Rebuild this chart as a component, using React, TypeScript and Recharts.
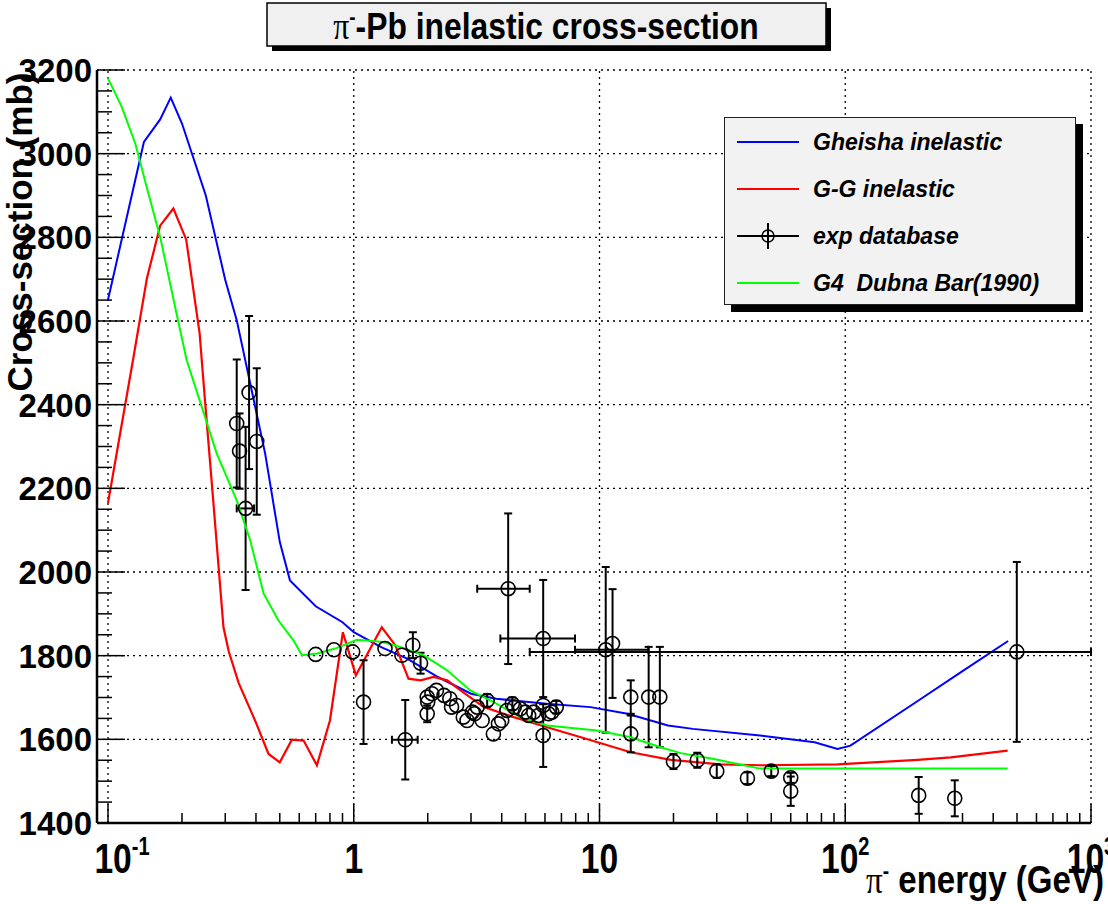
import React from 'react';
import { ComposedChart, Line, Scatter, XAxis, YAxis, ErrorBar, ReferenceLine, Legend } from 'recharts';

// ---------- data ----------
const gheishaE = [0.1, 0.14, 0.163, 0.18, 0.2, 0.25, 0.3, 0.334, 0.436, 0.5, 0.55, 0.7, 0.9, 1.0, 1.3, 1.65, 2.2, 3.0, 3.8, 6.1, 9.2, 13, 19, 24, 45, 75, 93, 105, 200, 300, 460];
const gheishaV = [2651, 3028, 3082, 3134, 3072, 2900, 2698, 2602, 2283, 2072, 1980, 1918, 1880, 1856, 1820, 1793, 1749, 1709, 1697, 1685, 1677, 1661, 1633, 1625, 1609, 1593, 1577, 1585, 1694, 1763, 1835];

const ggE = [0.1, 0.127, 0.144, 0.163, 0.1845, 0.208, 0.236, 0.248, 0.268, 0.295, 0.31, 0.34, 0.4, 0.45, 0.5, 0.56, 0.625, 0.708, 0.8, 0.903, 1.02, 1.3, 1.475, 1.67, 1.87, 2.11, 2.4, 2.72, 3.38, 4.48, 6.12, 8.4, 13.4, 19.5, 31, 45, 93, 197, 269, 458];
const ggV = [2165, 2514, 2702, 2828, 2869, 2795, 2570, 2411, 2171, 1868, 1810, 1735, 1640, 1565, 1545, 1599, 1597, 1538, 1645, 1856, 1753, 1868, 1825, 1745, 1741, 1749, 1741, 1717, 1677, 1653, 1629, 1605, 1569, 1551, 1540, 1538, 1540, 1551, 1557, 1573];

const g4E = [0.1, 0.1137, 0.129, 0.146, 0.163, 0.19, 0.209, 0.248, 0.277, 0.334, 0.379, 0.43, 0.494, 0.569, 0.615, 0.71, 0.84, 1.03, 1.29, 1.47, 1.92, 2.4, 2.98, 3.71, 4.76, 6.12, 9.77, 13.4, 17.7, 21.4, 29.2, 45, 100, 458];
const g4V = [3180, 3112, 3025, 2905, 2801, 2618, 2506, 2371, 2283, 2171, 2076, 1948, 1884, 1836, 1801, 1805, 1817, 1838, 1833, 1825, 1801, 1765, 1717, 1689, 1653, 1633, 1621, 1605, 1581, 1567, 1553, 1530, 1530, 1530];

const expE = [0.334, 0.343, 0.375, 0.403, 0.363, 0.70, 0.83, 0.99, 1.096, 1.34, 1.57, 1.62, 1.74, 1.87,
  1.99, 1.99, 2.0, 2.08, 2.17, 2.33, 2.46, 2.5, 2.62, 2.79, 2.89, 3.04, 3.1, 3.18, 3.33, 3.49, 3.7, 3.88, 4.0, 4.2, 4.42, 4.5, 4.76, 4.99, 5.15, 5.4, 5.65, 5.9, 5.9, 6.2, 6.4, 6.67,
  4.25, 5.9, 10.6, 11.3, 13.4, 13.4, 15.85, 17.6, 20, 25, 30, 40, 50, 60, 60, 199, 279, 499];
const expV = [2355, 2289, 2429, 2312, 2152, 1803, 1814, 1809, 1689, 1817, 1801, 1599, 1825, 1782,
  1701, 1661, 1689, 1709, 1717, 1705, 1697, 1677, 1681, 1653, 1645, 1665, 1661, 1677, 1645, 1693, 1613, 1637, 1645, 1669, 1685, 1677, 1673, 1665, 1657, 1665, 1657, 1681, 1609, 1661, 1665, 1677,
  1960, 1841, 1814, 1829, 1701, 1613, 1701, 1701, 1547, 1550, 1524, 1507, 1524, 1508, 1476, 1466, 1459, 1809];
const expErrY = [153, 90, 183, 175, 195, 0, 0, 0, 100, 0, 0, 95, 31, 25,
  0, 20, 0, 0, 0, 0, 0, 0, 0, 0, 0, 0, 0, 0, 0, 15, 0, 0, 0, 0, 15, 0, 0, 0, 0, 0, 0, 0, 75, 0, 0, 15,
  180, 140, 198, 130, 40, 44, 120, 120, 18, 18, 16, 14, 12, 12, 35, 44, 43, 215];
const expErrXLow = [0, 0, 0, 0, 0.029, 0, 0, 0, 0, 0, 0, 0.19, 0, 0,
  0, 0, 0, 0, 0, 0, 0, 0, 0, 0, 0, 0, 0, 0, 0, 0, 0, 0, 0, 0, 0, 0, 0, 0, 0, 0, 0, 0, 0, 0, 0, 0,
  1.07, 1.95, 2.65, 0, 0, 0, 0, 0, 0, 0, 0, 0, 0, 0, 0, 0, 0, 493.8];
const expErrXHigh = [0, 0, 0, 0, 0.03, 0, 0, 0, 0, 0, 0, 0.2, 0, 0,
  0, 0, 0, 0, 0, 0, 0, 0, 0, 0, 0, 0, 0, 0, 0, 0, 0, 0, 0, 0, 0, 0, 0, 0, 0, 0, 0, 0, 0, 0, 0, 0,
  0.95, 2.05, 5.2, 0, 0, 0, 0, 0, 0, 0, 0, 0, 0, 0, 0, 0, 0, 501];

const xMajorTicks = [0.1, 1, 10, 100, 1000];
const xMinorTicks = [0.2, 0.3, 0.4, 0.5, 0.6, 0.7, 0.8, 0.9, 2, 3, 4, 5, 6, 7, 8, 9, 20, 30, 40, 50, 60, 70, 80, 90, 200, 300, 400, 500, 600, 700, 800, 900];
const xTickLabels = [
  { v: 0.1, base: '10', sup: '-1' },
  { v: 1, base: '1', sup: '' },
  { v: 10, base: '10', sup: '' },
  { v: 100, base: '10', sup: '2' },
  { v: 1000, base: '10', sup: '3' },
];
const yMajorTicks = [1400, 1600, 1800, 2000, 2200, 2400, 2600, 2800, 3000, 3200];
const yMinorTicks = [1450, 1500, 1550, 1650, 1700, 1750, 1850, 1900, 1950, 2050, 2100, 2150, 2250, 2300, 2350, 2450, 2500, 2550, 2650, 2700, 2750, 2850, 2900, 2950, 3050, 3100, 3150];

const legendItems = [
  { name: 'Gheisha inelastic', color: '#0000ff', kind: 'line' },
  { name: 'G-G inelastic', color: '#ff0000', kind: 'line' },
  { name: 'exp database', color: '#000000', kind: 'marker' },
  { name: 'G4  Dubna Bar(1990)', color: '#00ff00', kind: 'line' },
];

// ---------- derived tables ----------
const toPts = (es: number[], vs: number[]) => es.map((e, i) => ({ e, v: vs[i] }));
const gheishaData = toPts(gheishaE, gheishaV);
const ggData = toPts(ggE, ggV);
const g4Data = toPts(g4E, g4V);
const expData = expE.map((e, i) => ({
  e,
  v: expV[i],
  ey: expErrY[i] || undefined,
  ex: expErrXLow[i] || expErrXHigh[i] ? [expErrXLow[i], expErrXHigh[i]] : undefined,
}));

const xAllTicks = [...xMajorTicks, ...xMinorTicks].sort((a, b) => a - b);
const yAllTicks = [...yMajorTicks, ...yMinorTicks].sort((a, b) => a - b);
const xDomain = [0.0902, 1000];
const yDomain = [1400, 3200];

const SANS = "'Liberation Sans', Arial, Helvetica, sans-serif";
const SERIF = "'Liberation Serif', 'DejaVu Serif', serif";

const XTick = (props: any) => {
  const { x, y, payload } = props;
  const v = payload.value;
  const major = xMajorTicks.includes(v);
  const lab = xTickLabels.find((l) => l.v === v);
  const dx = v === 0.1 ? 14 : 0;
  return (
    <g>
      <line x1={x} x2={x} y1={y} y2={y - (major ? 19 : 10)} stroke="#000" strokeWidth={1.5} />
      {lab && (
        <text
          transform={`translate(${x + dx},${y + 50}) scale(0.8,1)`}
          textAnchor="middle"
          fontFamily={SANS}
          fontWeight="bold"
          fontSize={42}
          fill="#000"
        >
          {lab.base}
          {lab.sup && (
            <tspan dy={-18} fontSize={25}>
              {lab.sup}
            </tspan>
          )}
        </text>
      )}
    </g>
  );
};

const YTick = (props: any) => {
  const { x, y, payload } = props;
  const v = payload.value;
  const major = yMajorTicks.includes(v);
  return (
    <g>
      <line x1={x} x2={x + (major ? 28 : 15)} y1={y} y2={y} stroke="#000" strokeWidth={1.5} />
      {major && (
        <text x={x - 5} y={y} dy="0.36em" textAnchor="end" fontFamily={SANS} fontWeight="bold" fontSize={33} fill="#000">
          {v}
        </text>
      )}
    </g>
  );
};

const Marker = (p: any) => (
  <circle cx={p.cx} cy={p.cy} r={7} fill="none" stroke="#000" strokeWidth={1.6} />
);

const LegendBox = () => (
  <div
    style={{
      position: 'relative',
      width: 352,
      height: 188,
      boxSizing: 'border-box',
      background: '#f2f2f2',
      border: '1.5px solid #222',
      boxShadow: '7px 7px 0 #000',
    }}
  >
    {legendItems.map((it, i) => {
      const cy = 24 + i * 47;
      return (
        <div key={it.name}>
          <svg style={{ position: 'absolute', left: 12, top: cy - 15 }} width={64} height={30}>
            <line x1={0} x2={62} y1={15} y2={15} stroke={it.color} strokeWidth={2} />
            {it.kind === 'marker' && (
              <>
                <line x1={31} x2={31} y1={2} y2={28} stroke="#000" strokeWidth={2} />
                <circle cx={31} cy={15} r={6} fill="none" stroke="#000" strokeWidth={1.5} />
              </>
            )}
          </svg>
          <div
            style={{
              position: 'absolute',
              left: 88,
              top: cy - 15,
              fontFamily: SANS,
              fontWeight: 'bold',
              fontStyle: 'italic',
              fontSize: 23,
              lineHeight: '30px',
              whiteSpace: 'pre',
              color: '#000',
            }}
          >
            {it.name}
          </div>
        </div>
      );
    })}
  </div>
);

export default function App() {
  return (
    <div style={{ position: 'absolute', left: 0, top: 0, width: 1108, height: 904, background: '#fff' }}>
      <ComposedChart width={1108} height={904} margin={{ top: 70, right: 17, bottom: 31, left: 7 }}>
        <XAxis
          dataKey="e"
          type="number"
          scale="log"
          domain={xDomain}
          allowDataOverflow
          ticks={xAllTicks}
          interval={0}
          tickSize={0}
          tickMargin={0}
          tickLine={false}
          tick={<XTick />}
          height={50}
          axisLine={{ stroke: '#000', strokeWidth: 2.5 }}
        />
        <XAxis
          xAxisId="top"
          orientation="top"
          type="number"
          scale="log"
          domain={xDomain}
          allowDataOverflow
          height={0}
          tick={false}
          tickLine={false}
          axisLine={{ stroke: '#000', strokeWidth: 2.5 }}
        />
        <YAxis
          type="number"
          domain={yDomain}
          allowDataOverflow
          ticks={yAllTicks}
          interval={0}
          tickSize={0}
          tickMargin={0}
          tickLine={false}
          tick={<YTick />}
          width={90}
          axisLine={{ stroke: '#000', strokeWidth: 2.5 }}
        />
        <YAxis
          yAxisId="right"
          orientation="right"
          type="number"
          domain={yDomain}
          allowDataOverflow
          width={0}
          tick={false}
          tickLine={false}
          axisLine={{ stroke: '#000', strokeWidth: 2.5 }}
        />
        {xMajorTicks.map((t) => (
          <ReferenceLine key={'gx' + t} x={t} stroke="#000" strokeWidth={1.3} strokeDasharray="2 4" />
        ))}
        {yMajorTicks.map((t) => (
          <ReferenceLine key={'gy' + t} y={t} stroke="#000" strokeWidth={1.3} strokeDasharray="2 4" />
        ))}
        <Line data={gheishaData} dataKey="v" name="Gheisha inelastic" stroke="#0000ff" strokeWidth={2} dot={false} type="linear" isAnimationActive={false} />
        <Line data={ggData} dataKey="v" name="G-G inelastic" stroke="#ff0000" strokeWidth={2.2} dot={false} type="linear" isAnimationActive={false} />
        <Scatter data={expData} dataKey="v" name="exp database" shape={Marker} isAnimationActive={false}>
          <ErrorBar dataKey="ey" direction="y" width={4} stroke="#000" strokeWidth={2} />
          <ErrorBar dataKey="ex" direction="x" width={4} stroke="#000" strokeWidth={2} />
        </Scatter>
        <Line data={g4Data} dataKey="v" name="G4  Dubna Bar(1990)" stroke="#00ff00" strokeWidth={2} dot={false} type="linear" isAnimationActive={false} />
        <Legend
          layout="vertical"
          align="center"
          verticalAlign="middle"
          wrapperStyle={{ position: 'absolute', left: 724, top: 117, width: 360, height: 196 }}
          content={() => <LegendBox />}
        />
      </ComposedChart>
      <svg
        width={1108}
        height={904}
        style={{ position: 'absolute', left: 0, top: 0, pointerEvents: 'none' }}
      >
        <rect x={272} y={8} width={559} height={43} fill="#000" />
        <rect x={267} y={3} width={559} height={43} fill="#f0f0f0" stroke="#000" strokeWidth={1.5} />
        <text transform="translate(546,39) scale(0.86,1)" textAnchor="middle" fontFamily={SANS} fontWeight="bold" fontSize={37} fill="#000">
          <tspan fontFamily={SERIF} fontWeight="normal">π</tspan>
          <tspan dy={-15} fontSize={22}>-</tspan>
          <tspan dy={15}>-Pb inelastic cross-section</tspan>
        </text>
        <text transform="translate(1104,893) scale(0.87,1)" textAnchor="end" fontFamily={SANS} fontWeight="bold" fontSize={38} fill="#000">
          <tspan fontFamily={SERIF} fontWeight="normal">π</tspan>
          <tspan dy={-15} fontSize={22}>-</tspan>
          <tspan dy={15}> energy (GeV)</tspan>
        </text>
        <text transform="translate(32,232) rotate(-90)" textAnchor="middle" fontFamily={SANS} fontWeight="bold" fontSize={35} fill="#000">
          Cross-section (mb)
        </text>
      </svg>
    </div>
  );
}
